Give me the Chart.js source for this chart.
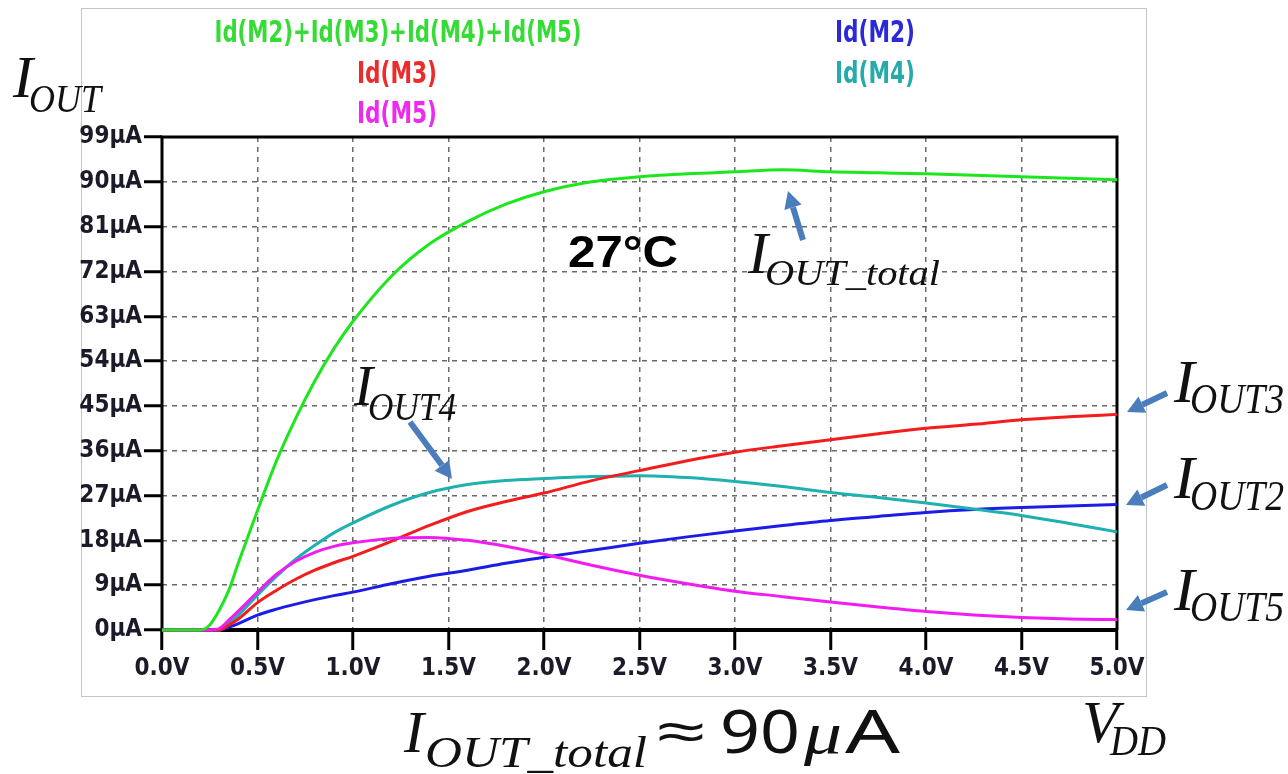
<!DOCTYPE html>
<html><head><meta charset="utf-8">
<script src="https://cdn.jsdelivr.net/npm/chart.js@4.4.0/dist/chart.umd.min.js"></script>
<style>html,body{margin:0;padding:0;background:#fff;}canvas{display:block;}</style>
</head><body>
<canvas id="c" width="1288" height="774"></canvas>
<script>
// ---- data (VDD sweep, currents in µA) ----
const vdd     = [0,0.2,0.25,0.3,0.35,0.4,0.5,0.6,0.7,0.8,0.9,1.0,1.2,1.4,1.6,1.8,2.0,2.25,2.5,2.75,3.0,3.25,3.5,3.75,4.0,4.25,4.5,4.75,5.0];
const idTotal = [0,0,1,4,8,13.5,24,34,42.5,50,56.5,62,71,77.5,82,85.5,88,90,91,91.6,92,92.4,92,91.8,91.6,91.3,91,90.7,90.4];
const idM3    = [0,0,0,0,1,2.2,5.5,8,10.2,12,13.5,14.8,17.8,21,23.8,25.8,27.5,30,32,34,35.7,37,38.2,39.4,40.5,41.3,42.2,42.8,43.3];
const idM2    = [0,0,0,0,0.6,1.3,3,4.2,5.2,6.1,6.9,7.6,9.3,10.8,12,13.4,14.6,16,17.4,18.7,19.9,21,22,22.8,23.6,24.2,24.6,24.9,25.2];
const idM4    = [0,0,0,0,1.4,3,7,10.8,14.2,17,19.5,21.5,25,27.6,29.2,30,30.4,30.8,31,30.6,29.8,28.8,27.6,26.6,25.5,24.3,23,21.4,19.7];
const idM5    = [0,0,0,0.3,2,3.8,7.6,11.2,13.8,15.6,16.8,17.5,18.4,18.6,18,16.8,15.2,13,11,9.3,7.8,6.7,5.6,4.6,3.7,3,2.5,2.2,2.1];
const seriesLabels = ['Id(M2)+Id(M3)+Id(M4)+Id(M5)','Id(M3)','Id(M5)','Id(M2)','Id(M4)'];
const xTickLabels = ['0.0V','0.5V','1.0V','1.5V','2.0V','2.5V','3.0V','3.5V','4.0V','4.5V','5.0V'];
const yTickLabels = ['0µA','9µA','18µA','27µA','36µA','45µA','54µA','63µA','72µA','81µA','90µA','99µA'];

const pts = arr => vdd.map((x,i)=>({x:x, y:arr[i]}));
const NARROW = "'Liberation Sans Narrow','DejaVu Sans Condensed','Liberation Sans',sans-serif";
const SERIF = "'Liberation Serif','DejaVu Serif',serif";
const SANS = "'Noto Sans','Open Sans','DejaVu Sans',sans-serif";

const colors = {total:'#1ee61e', m3:'#f41c1c', m5:'#f21cf2', m2:'#1c1ce8', m4:'#1fb0b0'};
const legendColors = ['#35dc35','#ee2a2a','#ee2aee','#2a2ad8','#26aaaa'];

function fitText(ctx, text, x, y, font, color, w, align){
  ctx.save(); ctx.font = font; ctx.fillStyle = color; ctx.textBaseline = 'alphabetic';
  const m = ctx.measureText(text).width;
  const sx = w ? w / m : 1;
  ctx.translate(x, y); ctx.scale(sx, 1);
  ctx.textAlign = align || 'left';
  ctx.fillText(text, 0, 0);
  ctx.restore();
}
function mathLabel(ctx, main, mx, mb, msize, sub, sx, sb, ssize, sw){
  fitText(ctx, main, mx, mb, 'italic ' + msize + 'px ' + SERIF, '#111', null);
  fitText(ctx, sub, sx, sb, 'italic ' + ssize + 'px ' + SERIF, '#111', sw);
}
function arrow(ctx, x1, y1, x2, y2){
  const a = Math.atan2(y2-y1, x2-x1), head = 17, hw = 9;
  const bx = x2 - head*Math.cos(a), by = y2 - head*Math.sin(a);
  ctx.save();
  ctx.strokeStyle = ctx.fillStyle = '#4a7dbc';
  ctx.lineWidth = 6; ctx.lineCap = 'butt';
  ctx.beginPath(); ctx.moveTo(x1, y1); ctx.lineTo(bx, by); ctx.stroke();
  ctx.beginPath(); ctx.moveTo(x2, y2);
  ctx.lineTo(bx - hw*Math.sin(a), by + hw*Math.cos(a));
  ctx.lineTo(bx + hw*Math.sin(a), by - hw*Math.cos(a));
  ctx.closePath(); ctx.fill();
  ctx.restore();
}

const deco = {
  id:'deco',
  beforeDraw(chart){
    const ctx = chart.ctx;
    ctx.save();
    ctx.fillStyle = '#fff'; ctx.fillRect(0,0,chart.width,chart.height);
    ctx.strokeStyle = '#c4c4c4'; ctx.lineWidth = 1;
    ctx.strokeRect(81.5, 8.5, 1146-81, 696-8);
    ctx.restore();
  },
  beforeDatasetsDraw(chart){
    const ctx = chart.ctx, a = chart.chartArea;
    ctx.save(); ctx.strokeStyle = '#000';
    ctx.lineWidth = 3;
    ctx.beginPath();
    ctx.moveTo(a.left, a.bottom); ctx.lineTo(a.left, a.top); ctx.lineTo(a.right, a.top); ctx.lineTo(a.right, a.bottom);
    ctx.stroke();
    ctx.lineWidth = 4;
    ctx.beginPath(); ctx.moveTo(a.left-1, a.bottom); ctx.lineTo(a.right+1, a.bottom); ctx.stroke();
    ctx.restore();
  },
  afterDraw(chart){
    const ctx = chart.ctx;
    const lf = 'bold 30px ' + NARROW;
    fitText(ctx, seriesLabels[0], 398, 42, lf, legendColors[0], 367, 'center');
    fitText(ctx, seriesLabels[1], 397, 83, lf, legendColors[1], 80, 'center');
    fitText(ctx, seriesLabels[2], 397, 123, lf, legendColors[2], 80, 'center');
    fitText(ctx, seriesLabels[3], 875, 42, lf, legendColors[3], 80, 'center');
    fitText(ctx, seriesLabels[4], 875, 83, lf, legendColors[4], 80, 'center');

    mathLabel(ctx, 'I', 13, 97, 60, 'OUT', 29, 112, 41, 72);
    mathLabel(ctx, 'I', 1174, 402, 62, 'OUT3', 1190, 413, 42, 94);
    mathLabel(ctx, 'I', 1174, 498, 62, 'OUT2', 1190, 510, 42, 94);
    mathLabel(ctx, 'I', 1174, 610, 62, 'OUT5', 1190, 621, 42, 94);
    arrow(ctx, 1167, 393, 1127, 412);
    arrow(ctx, 1167, 485, 1126, 505);
    arrow(ctx, 1167, 592, 1126, 610);
    mathLabel(ctx, 'I', 354, 405, 57, 'OUT4', 368, 420, 41, 88);
    arrow(ctx, 410, 422, 452, 479);
    mathLabel(ctx, 'I', 748, 273, 60, 'OUT_total', 765, 285, 36, 175);
    arrow(ctx, 803, 240, 788, 191);
    fitText(ctx, '27°C', 568, 267, 'bold 45px ' + "'Liberation Sans',Arial,sans-serif", '#000', 110);
    fitText(ctx, 'I', 404, 752, 'italic 60px ' + SERIF, '#111', null);
    fitText(ctx, 'OUT_total', 425, 767, 'italic 44px ' + SERIF, '#111', 222);
    fitText(ctx, '≈', 655, 752, '56px ' + SANS, '#111', 52);
    fitText(ctx, '90', 720, 753, '60px ' + SANS, '#111', 80);
    fitText(ctx, 'μ', 804, 753, 'italic 60px ' + SERIF, '#111', 38);
    fitText(ctx, 'A', 845, 753, '60px ' + SANS, '#111', 55);
    fitText(ctx, 'V', 1082, 742, 'italic 60px ' + SERIF, '#111', null);
    fitText(ctx, 'DD', 1110, 755, 'italic 42px ' + SERIF, '#111', 56);
  }
};

const ds = (label, arr, color) => ({
  label: label, data: pts(arr), borderColor: color, backgroundColor: color,
  borderWidth: 3, pointRadius: 0, fill: false, cubicInterpolationMode: 'monotone', clip: false
});

new Chart(document.getElementById('c').getContext('2d'), {
  type: 'line',
  data: { datasets: [
    ds(seriesLabels[0], idTotal, colors.total),
    ds(seriesLabels[2], idM5, colors.m5),
    ds(seriesLabels[1], idM3, colors.m3),
    ds(seriesLabels[4], idM4, colors.m4),
    ds(seriesLabels[3], idM2, colors.m2)
  ]},
  options: {
    responsive: false, animation: false, devicePixelRatio: 1,
    layout: { padding: { left: 0, top: 137, right: 171, bottom: 84 } },
    plugins: { legend: { display: false }, tooltip: { enabled: false } },
    scales: {
      x: {
        type: 'linear', min: 0, max: 5,
        ticks: { stepSize: 0.5, autoSkip: false, maxRotation: 0, padding: 4, color: '#1a1a28',
          font: { family: NARROW, size: 24, weight: 'bold' },
          callback: (v) => xTickLabels[Math.round(v / 0.5)] },
        grid: { color: '#6a6a6a', lineWidth: 1.5, tickLength: 20, tickColor: '#000', tickWidth: 3, tickBorderDash: [] },
        border: { display: false, dash: [5, 5] },
        afterFit: (s) => { s.height = 60; }
      },
      y: {
        type: 'linear', min: 0, max: 99,
        ticks: { stepSize: 9, autoSkip: false, padding: 2, color: '#1a1a28',
          font: { family: NARROW, size: 24, weight: 'bold' },
          callback: (v) => yTickLabels[Math.round(v / 9)] },
        grid: { color: '#6a6a6a', lineWidth: 1.5, tickLength: 18, tickColor: '#000', tickWidth: 3, tickBorderDash: [] },
        border: { display: false, dash: [5, 5] },
        afterFit: (s) => { s.width = 162; }
      }
    }
  },
  plugins: [deco]
});
</script>
</body></html>
